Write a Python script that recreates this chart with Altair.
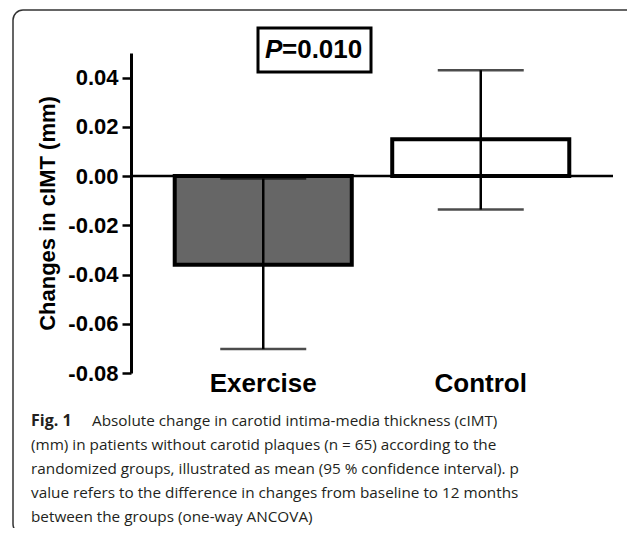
import altair as alt
import pandas as pd

groups = ["Exercise", "Control"]
means = [-0.036, 0.015]
ci_low = [-0.0703, -0.0136]
ci_high = [-0.001, 0.043]
bar_fills = ["#666666", "#ffffff"]
y_ticks = [-0.08, -0.06, -0.04, -0.02, 0.00, 0.02, 0.04]
y_domain = [-0.08, 0.05]
y_title = "Changes in cIMT (mm)"
p_italic = "P"
p_rest = "=0.010"
caption_bold = "Fig. 1"
caption_lines = [
    "Absolute change in carotid intima-media thickness (cIMT)",
    "(mm) in patients without carotid plaques (n = 65) according to the",
    "randomized groups, illustrated as mean (95 % confidence interval). p",
    "value refers to the difference in changes from baseline to 12 months",
    "between the groups (one-way ANCOVA)",
]

df = pd.DataFrame({"group": groups, "mean": means, "lo": ci_low, "hi": ci_high,
                   "fill": bar_fills, "base": [0.0, 0.0]})
zero_df = pd.DataFrame({"zero": [0.0]})
one = pd.DataFrame({"a": [0]})

W, H = 482, 320
BOLD = "Liberation Sans"
CAP = "Open Sans"

x_enc = alt.X("group:N", sort=groups,
              scale=alt.Scale(paddingInner=0.186, paddingOuter=0.201),
              axis=alt.Axis(title=None, labelAngle=0, domain=False, ticks=False,
                            labelFont=BOLD, labelFontWeight="bold", labelFontSize=26,
                            labelColor="black", labelPadding=-3))
y_scale = alt.Scale(domain=y_domain, nice=False, zero=False)
y_axis = alt.Axis(values=y_ticks,
                  labelExpr="replace(format(datum.value, '.2f'), '\u2212', '-')",
                  title=y_title, titleFont=BOLD, titleFontSize=22, titleFontWeight="bold",
                  titleColor="black", titleX=-84, titleY=160, titleAngle=270,
                  titleAlign="center", titleBaseline="middle",
                  labelFont=BOLD, labelFontSize=22, labelFontWeight="bold",
                  labelColor="black", labelPadding=4,
                  domainColor="black", domainWidth=3, tickColor="black",
                  tickWidth=2.5, tickSize=9, grid=False)

frame = alt.Chart(one).mark_rect(fill="transparent", stroke="#333333", strokeWidth=1.5,
                                 cornerRadius=10).encode(
    x=alt.value(-118), x2=alt.value(530), y=alt.value(-43), y2=alt.value(481))

bars = alt.Chart(df).mark_bar(stroke="black", strokeWidth=4, strokeJoin="miter").encode(
    x=x_enc,
    y=alt.Y("mean:Q", scale=y_scale, axis=y_axis),
    y2="base:Q",
    fill=alt.Fill("fill:N", scale=None, legend=None),
)

zero_rule = alt.Chart(zero_df).mark_rule(color="black", strokeWidth=2.5).encode(
    y=alt.Y("zero:Q", scale=y_scale))

err = alt.Chart(df).mark_rule(color="black", strokeWidth=2.5).encode(
    x=alt.X("group:N", sort=groups), y=alt.Y("lo:Q", scale=y_scale), y2="hi:Q")
cap_lo = alt.Chart(df).mark_tick(color="black", size=86, thickness=2.5).encode(
    x=alt.X("group:N", sort=groups), y=alt.Y("lo:Q", scale=y_scale))
cap_hi = alt.Chart(df).mark_tick(color="black", size=86, thickness=2.5).encode(
    x=alt.X("group:N", sort=groups), y=alt.Y("hi:Q", scale=y_scale))

pbox = alt.Chart(one).mark_rect(fill="white", stroke="black", strokeWidth=3).encode(
    x=alt.value(127), x2=alt.value(240), y=alt.value(-25), y2=alt.value(19))
ptext1 = alt.Chart(one).mark_text(align="left", baseline="alphabetic", font=BOLD,
                                  fontSize=26, fontWeight="bold", fontStyle="italic",
                                  color="black").encode(
    x=alt.value(134), y=alt.value(5), text=alt.value(p_italic))
ptext2 = alt.Chart(one).mark_text(align="left", baseline="alphabetic", font=BOLD,
                                  fontSize=26, fontWeight="bold",
                                  color="black").encode(
    x=alt.value(151), y=alt.value(5), text=alt.value(p_rest))

cap_layers = [alt.Chart(one).mark_text(align="left", baseline="alphabetic", font=CAP,
                                       fontSize=16, fontWeight="bold", color="#231f20").encode(
    x=alt.value(-100), y=alt.value(373), text=alt.value(caption_bold))]
cap_x = [-39, -100, -100, -100, -100]
cap_y = [373, 397, 421, 445, 469]
for i, line in enumerate(caption_lines):
    cap_layers.append(alt.Chart(one).mark_text(align="left", baseline="alphabetic", font=CAP,
                                               fontSize=15.3, color="#231f20").encode(
        x=alt.value(cap_x[i]), y=alt.value(cap_y[i]), text=alt.value(line)))

chart = alt.layer(frame, bars, zero_rule, err, cap_lo, cap_hi, pbox, ptext1, ptext2,
                  *cap_layers).properties(
    width=W, height=H,
    padding={"left": 123, "top": 45, "right": 14, "bottom": 155},
    autosize=alt.AutoSizeParams(type="none"),
).configure_view(stroke=None)

chart.save("out.html", embed_options={"renderer": "svg", "actions": False})
